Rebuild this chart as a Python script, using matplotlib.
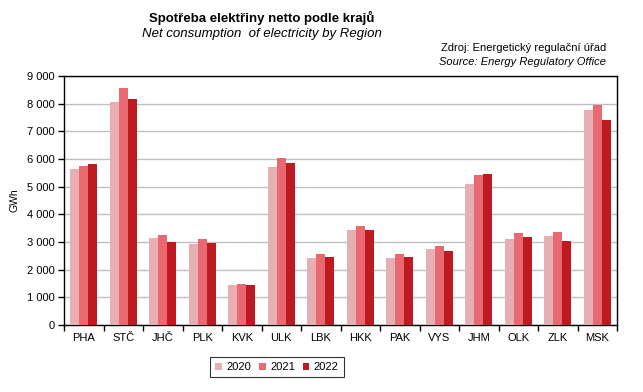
import matplotlib
matplotlib.use("Agg")
import matplotlib.pyplot as plt
from matplotlib.ticker import FuncFormatter, MultipleLocator, FixedLocator
import numpy as np

plt.rcParams['font.family'] = ['Liberation Sans', 'DejaVu Sans']

regions = ["PHA", "STČ", "JHČ", "PLK", "KVK", "ULK", "LBK", "HKK", "PAK", "VYS", "JHM", "OLK", "ZLK", "MSK"]
years = ["2020", "2021", "2022"]
v2020 = [5650, 8060, 3140, 2920, 1450, 5710, 2420, 3430, 2420, 2750, 5100, 3100, 3210, 7770]
v2021 = [5750, 8570, 3250, 3100, 1480, 6040, 2570, 3580, 2570, 2860, 5420, 3320, 3360, 7950]
v2022 = [5820, 8170, 3000, 2960, 1440, 5850, 2460, 3430, 2460, 2670, 5460, 3180, 3030, 7410]
colors = ["#E6AFB4", "#E8696F", "#BE1A22"]

fig = plt.figure(figsize=(6.43, 3.92), dpi=100)
ax = fig.add_axes([64/643, 1-325/392, (617-64)/643, (325-76)/392])

x = np.arange(len(regions))
w = 0.225
for i, (vals, c, lab) in enumerate(zip([v2020, v2021, v2022], colors, years)):
    ax.bar(x + (i-1)*w, vals, width=w, color=c, label=lab, zorder=3)

ax.set_xlim(-0.5, len(regions)-0.5)
ax.set_ylim(0, 9000)
ax.yaxis.set_major_locator(MultipleLocator(1000))
ax.yaxis.set_major_formatter(FuncFormatter(lambda v, p: f"{int(v):,}".replace(",", " ")))
ax.grid(axis='y', color='#BFBFBF', linewidth=1.0, zorder=0)
ax.set_axisbelow(True)

ax.set_xticks(x)
ax.set_xticklabels(regions)
ax.tick_params(axis='x', which='major', length=0, pad=6, labelsize=8)
ax.xaxis.set_minor_locator(FixedLocator(np.arange(-0.5, len(regions), 1.0)))
ax.tick_params(axis='x', which='minor', length=4, width=1, direction='out')
ax.tick_params(axis='y', length=4, width=1, direction='out', labelsize=8, pad=3)

for s in ax.spines.values():
    s.set_color('black')
    s.set_linewidth(1.0)

ax.set_ylabel("GWh", fontsize=7.5, labelpad=4)
ax.yaxis.set_label_coords(-0.08, 0.5)

fig.text(262/643, 1-18/392, "Spotřeba elektřiny netto podle krajů", ha='center', va='center',
         fontsize=9.5, fontweight='bold')
fig.text(262/643, 1-34/392, "Net consumption  of electricity by Region", ha='center', va='center',
         fontsize=9.5, style='italic')
fig.text(606/643, 1-48/392, "Zdroj: Energetický regulační úřad", ha='right', va='center', fontsize=8)
fig.text(606/643, 1-62/392, "Source: Energy Regulatory Office", ha='right', va='center', fontsize=8,
         style='italic')

leg = fig.legend(loc='center', bbox_to_anchor=(277/643, 1-367/392), ncol=3, fontsize=8,
                 frameon=True, fancybox=False, edgecolor='black', handlelength=0.6,
                 handleheight=0.6, handletextpad=0.4, columnspacing=0.7, borderpad=0.45,
                 borderaxespad=0)
leg.get_frame().set_linewidth(0.8)

fig.savefig("out.png", dpi=100)
